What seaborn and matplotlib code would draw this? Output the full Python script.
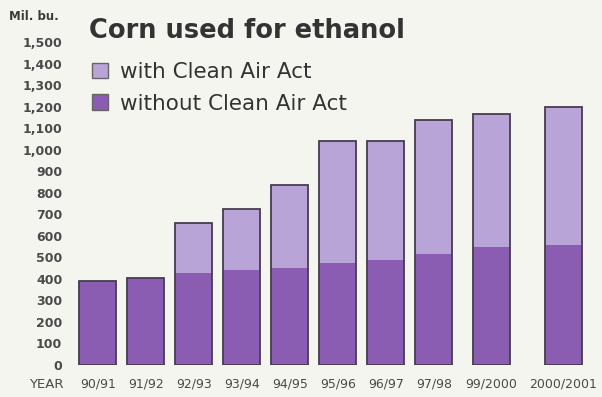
import pandas as pd
import seaborn as sns
import matplotlib.pyplot as plt
from matplotlib.patches import Patch

# data (million bushels)
years = ['90/91', '91/92', '92/93', '93/94', '94/95', '95/96', '96/97', '97/98', '99/2000', '2000/2001']
with_caa = [390, 405, 660, 725, 835, 1040, 1040, 1140, 1165, 1200]
without_caa = [390, 405, 425, 440, 450, 473, 488, 515, 548, 558]

# layout: slot for each bar (98/99 is missing, so the last gaps are wider)
slot = [0, 1, 2, 3, 4, 5, 6, 7, 8.2, 9.7]

df = pd.DataFrame({'year': years, 'slot': slot, 'with': with_caa, 'without': without_caa})

light = '#b9a4d8'
dark = '#8a5cb2'
edge = '#463c4e'
bg = '#f5f5f0'

sns.set_style('white')
plt.rcParams['font.family'] = ['DejaVu Sans']

fig = plt.figure(figsize=(6.02, 3.97), dpi=100, facecolor=bg)
ax = fig.add_axes([72 / 602, 32 / 397, 528 / 602, 323 / 397])
ax.set_facecolor(bg)

sns.barplot(data=df, x='slot', y='with', native_scale=True, color=light,
            width=0.77, edgecolor='none', saturation=1, ax=ax)
sns.barplot(data=df, x='slot', y='without', native_scale=True, color=dark,
            width=0.77, edgecolor='none', saturation=1, ax=ax)
sns.barplot(data=df, x='slot', y='with', native_scale=True, fill=False,
            width=0.77, edgecolor=edge, linewidth=1.3, ax=ax)

ax.set_xlim(-0.54, 10.46)
ax.set_ylim(0, 1500)
ax.set_yticks(range(0, 1501, 100))
ax.set_yticklabels([f'{v:,}' for v in range(0, 1501, 100)], fontsize=9,
                   fontweight='bold', color='#4a4a4a')
ax.set_xticks(slot)
ax.set_xticklabels(years, fontsize=9, color='#4a4a4a')
ax.tick_params(axis='y', length=0, pad=7)
ax.tick_params(axis='x', length=0, pad=9)
ax.set_xlabel('')
ax.set_ylabel('')
sns.despine(ax=ax, left=True, bottom=True)

fig.text(9 / 602, 1 - 17 / 397, 'Mil. bu.', fontsize=8.5, fontweight='bold',
         color='#3a3a3a', va='center')
fig.text(29 / 602, 1 - 385 / 397, 'YEAR', fontsize=9.5, color='#4a4a4a', va='center')
fig.text(89 / 602, 1 - 31 / 397, 'Corn used for ethanol', fontsize=18.5,
         fontweight='bold', color='#333333', va='center')

handles = [Patch(facecolor=light, edgecolor='#666666', label='with Clean Air Act'),
           Patch(facecolor=dark, edgecolor='#666666', label='without Clean Air Act')]
fig.legend(handles=handles, loc='upper left', bbox_to_anchor=(92 / 602, 1 - 62 / 397),
           frameon=False, fontsize=15.5, handlelength=0.75, handleheight=0.75,
           handletextpad=0.55, labelspacing=0.55, borderaxespad=0, borderpad=0,
           labelcolor='#333333')

fig.savefig('out.png', dpi=100, facecolor=bg)
